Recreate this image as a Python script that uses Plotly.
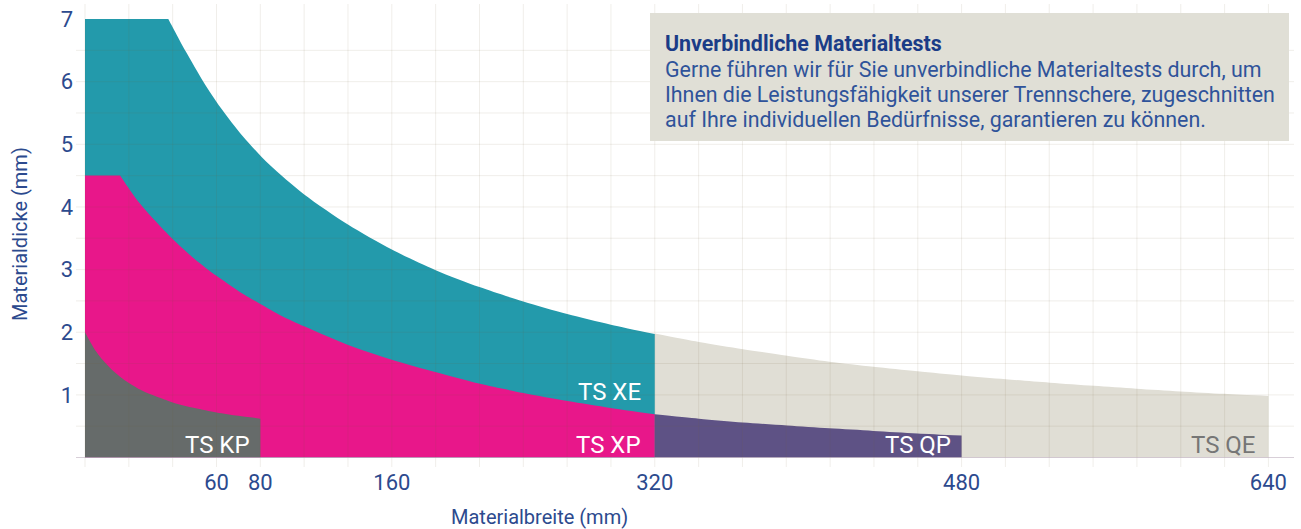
import numpy as np
import plotly.graph_objects as go

# ---- axis scale (the original axis is not linear: labelled widths sit on grid steps)
tick_mm = [0, 60, 80, 160, 320, 480, 640]
tick_pos = [0, 3, 4, 7, 13, 20, 27]
tick_labels = ["", "60", "80", "160", "320", "480", "640"]
y_ticks = [1, 2, 3, 4, 5, 6, 7]

# ---- series (width in mm, thickness in mm)
qe_mm = [320, 343, 366, 389, 411, 434, 457, 480, 503, 526, 549, 571, 594, 617, 640]
qe_t = [1.98, 1.845, 1.73, 1.625, 1.53, 1.45, 1.377, 1.31, 1.25, 1.195, 1.144, 1.098, 1.055, 1.016, 0.98]

xe_mm = [0, 20, 34, 38, 46, 54, 62, 72, 85.3, 106.7, 133.3, 160, 186.7, 213.3, 240, 266.7, 293.3, 320]
xe_t = [7.0, 7.0, 7.0, 7.0, 6.48, 6.0, 5.58, 5.13, 4.68, 4.2, 3.72, 3.32, 2.99, 2.72, 2.49, 2.29, 2.12, 1.97]

xp_mm = [0, 8, 13, 16, 24, 32, 40, 50, 60, 70, 80, 93, 107, 133, 160, 187, 213, 240, 267, 293, 320]
xp_t = [4.5, 4.5, 4.5, 4.5, 4.10, 3.78, 3.49, 3.17, 2.90, 2.66, 2.45, 2.26, 2.09, 1.80, 1.56, 1.36, 1.18, 1.03, 0.90, 0.79, 0.69]

kp_mm = [0, 4, 8, 12, 16, 20, 26, 32, 40, 50, 60, 70, 80]
kp_t = [2.0, 1.75, 1.56, 1.41, 1.29, 1.19, 1.07, 0.98, 0.88, 0.79, 0.72, 0.665, 0.62]

qp_mm = [320, 343, 366, 389, 411, 434, 457, 480]
qp_t = [0.69, 0.62, 0.56, 0.51, 0.465, 0.425, 0.385, 0.35]

series_names = ["TS QE", "TS XE", "TS XP", "TS KP", "TS QP"]
series_mm = [qe_mm, xe_mm, xp_mm, kp_mm, qp_mm]
series_t = [qe_t, xe_t, xp_t, kp_t, qp_t]
series_colors = ["#e0ded5", "#239aab", "#e8178a", "#666b6a", "#5e5285"]

label_mm = [634.5, 313, 313, 475.5, 76]
label_t = [0.2, 1.05, 0.2, 0.2, 0.2]
label_order = ["TS QE", "TS XE", "TS XP", "TS QP", "TS KP"]
label_colors = ["#767676", "white", "white", "white", "white"]

info_title = "Unverbindliche Materialtests"
info_lines = [
    "Gerne führen wir für Sie unverbindliche Materialtests durch, um",
    "Ihnen die Leistungsfähigkeit unserer Trennschere, zugeschnitten",
    "auf Ihre individuellen Bedürfnisse, garantieren zu können.",
]

FONT = "Roboto"
NAVY = "#2c4a8e"


def pos(mm):
    return np.interp(np.asarray(mm, dtype=float), tick_mm, tick_pos)


def sharp_corner(xs, ys):
    """Repeat the last point of a flat top so the spline keeps a sharp corner there."""
    xs, ys = list(xs), list(ys)
    top = max(ys)
    k = max(i for i, v in enumerate(ys) if v == top)
    if 0 < k < len(ys) - 1 and ys[0] == top:
        xs.insert(k, xs[k])
        ys.insert(k, ys[k])
    return xs, ys


fig = go.Figure()
for name, mm, t, col in zip(series_names, series_mm, series_t, series_colors):
    xs, ys = sharp_corner(pos(mm), t)
    fig.add_trace(go.Scatter(x=xs, y=ys, mode="lines", fill="tozeroy",
                             fillcolor=col, line=dict(width=0, color=col, shape="spline",
                                                      smoothing=0.8, simplify=False),
                             name=name, hoverinfo="name", showlegend=False))

# grid drawn above the fills (faint, as in the original)
grid_col = "rgba(120,100,60,0.11)"
for gx in range(0, tick_pos[-1] + 1):
    fig.add_shape(type="line", xref="x", yref="paper", x0=gx, x1=gx, y0=0, y1=1,
                  line=dict(color=grid_col, width=1), layer="above")
for gy in np.arange(0.5, 7.0, 0.5):
    fig.add_shape(type="line", xref="paper", yref="y", x0=0, x1=1, y0=gy, y1=gy,
                  line=dict(color=grid_col, width=1), layer="above")
fig.add_shape(type="line", xref="paper", yref="y", x0=0, x1=1, y0=0, y1=0,
              line=dict(color="rgba(190,175,190,0.6)", width=1), layer="above")

# info box
L, R, T, B = 76, 7, 4, 62
W, H = 1301, 529
pw, ph = W - L - R, H - T - B


def px2paper_x(px):
    return (px - L) / pw


def px2paper_y(py):
    return (H - B - py) / ph


fig.add_shape(type="rect", xref="paper", yref="paper",
              x0=px2paper_x(650), x1=px2paper_x(1289),
              y0=px2paper_y(141), y1=px2paper_y(13),
              fillcolor="#e0dfd6", line=dict(width=0), layer="above")
fig.add_annotation(xref="paper", yref="paper", x=px2paper_x(663), y=px2paper_y(44),
                   xanchor="left", yanchor="middle", align="left", showarrow=False,
                   text="<b>" + info_title + "</b>",
                   font=dict(family=FONT, size=21.4, color="#1b3c87"))
for i, line in enumerate(info_lines):
    fig.add_annotation(xref="paper", yref="paper", x=px2paper_x(663),
                       y=px2paper_y(69 + 25 * i),
                       xanchor="left", yanchor="middle", align="left", showarrow=False,
                       text=line, font=dict(family=FONT, size=21.4, color="#2f539a"))

for txt, mm, t, col in zip(label_order, label_mm, label_t, label_colors):
    fig.add_annotation(x=pos(mm).item(), y=t, text=txt, showarrow=False,
                       xanchor="right", yanchor="middle",
                       font=dict(family=FONT, size=24, color=col))

fig.add_annotation(xref="paper", yref="paper", x=px2paper_x(539), y=px2paper_y(517),
                   xanchor="center", yanchor="middle", showarrow=False,
                   text="Materialbreite (mm)", font=dict(family=FONT, size=20, color=NAVY))
fig.add_annotation(xref="paper", yref="paper", x=px2paper_x(20), y=px2paper_y(234),
                   xanchor="center", yanchor="middle", showarrow=False, textangle=-90,
                   text="Materialdicke (mm)", font=dict(family=FONT, size=20, color=NAVY))

x_lo = (L - 85) / 43.83
x_hi = (W - R - 85) / 43.83
y_lo = (457.5 - (H - B)) / 62.64
y_hi = (457.5 - T) / 62.64

fig.update_layout(
    width=W, height=H,
    margin=dict(l=L, r=R, t=T, b=B),
    paper_bgcolor="white", plot_bgcolor="white",
    font=dict(family=FONT, color=NAVY),
    xaxis=dict(range=[x_lo, x_hi], tickvals=tick_pos, ticktext=tick_labels,
               showgrid=False, zeroline=False, showline=False, ticks="",
               tickfont=dict(family=FONT, size=22, color=NAVY), fixedrange=True),
    yaxis=dict(range=[y_lo, y_hi], tickvals=y_ticks, showgrid=False, zeroline=False,
               showline=False, ticks="", ticklabelstandoff=2,
               tickfont=dict(family=FONT, size=22, color=NAVY), fixedrange=True),
)

fig.write_html("out.html", config={"displayModeBar": False},
               post_script="document.body.style.margin='0';document.body.style.padding='0';")
